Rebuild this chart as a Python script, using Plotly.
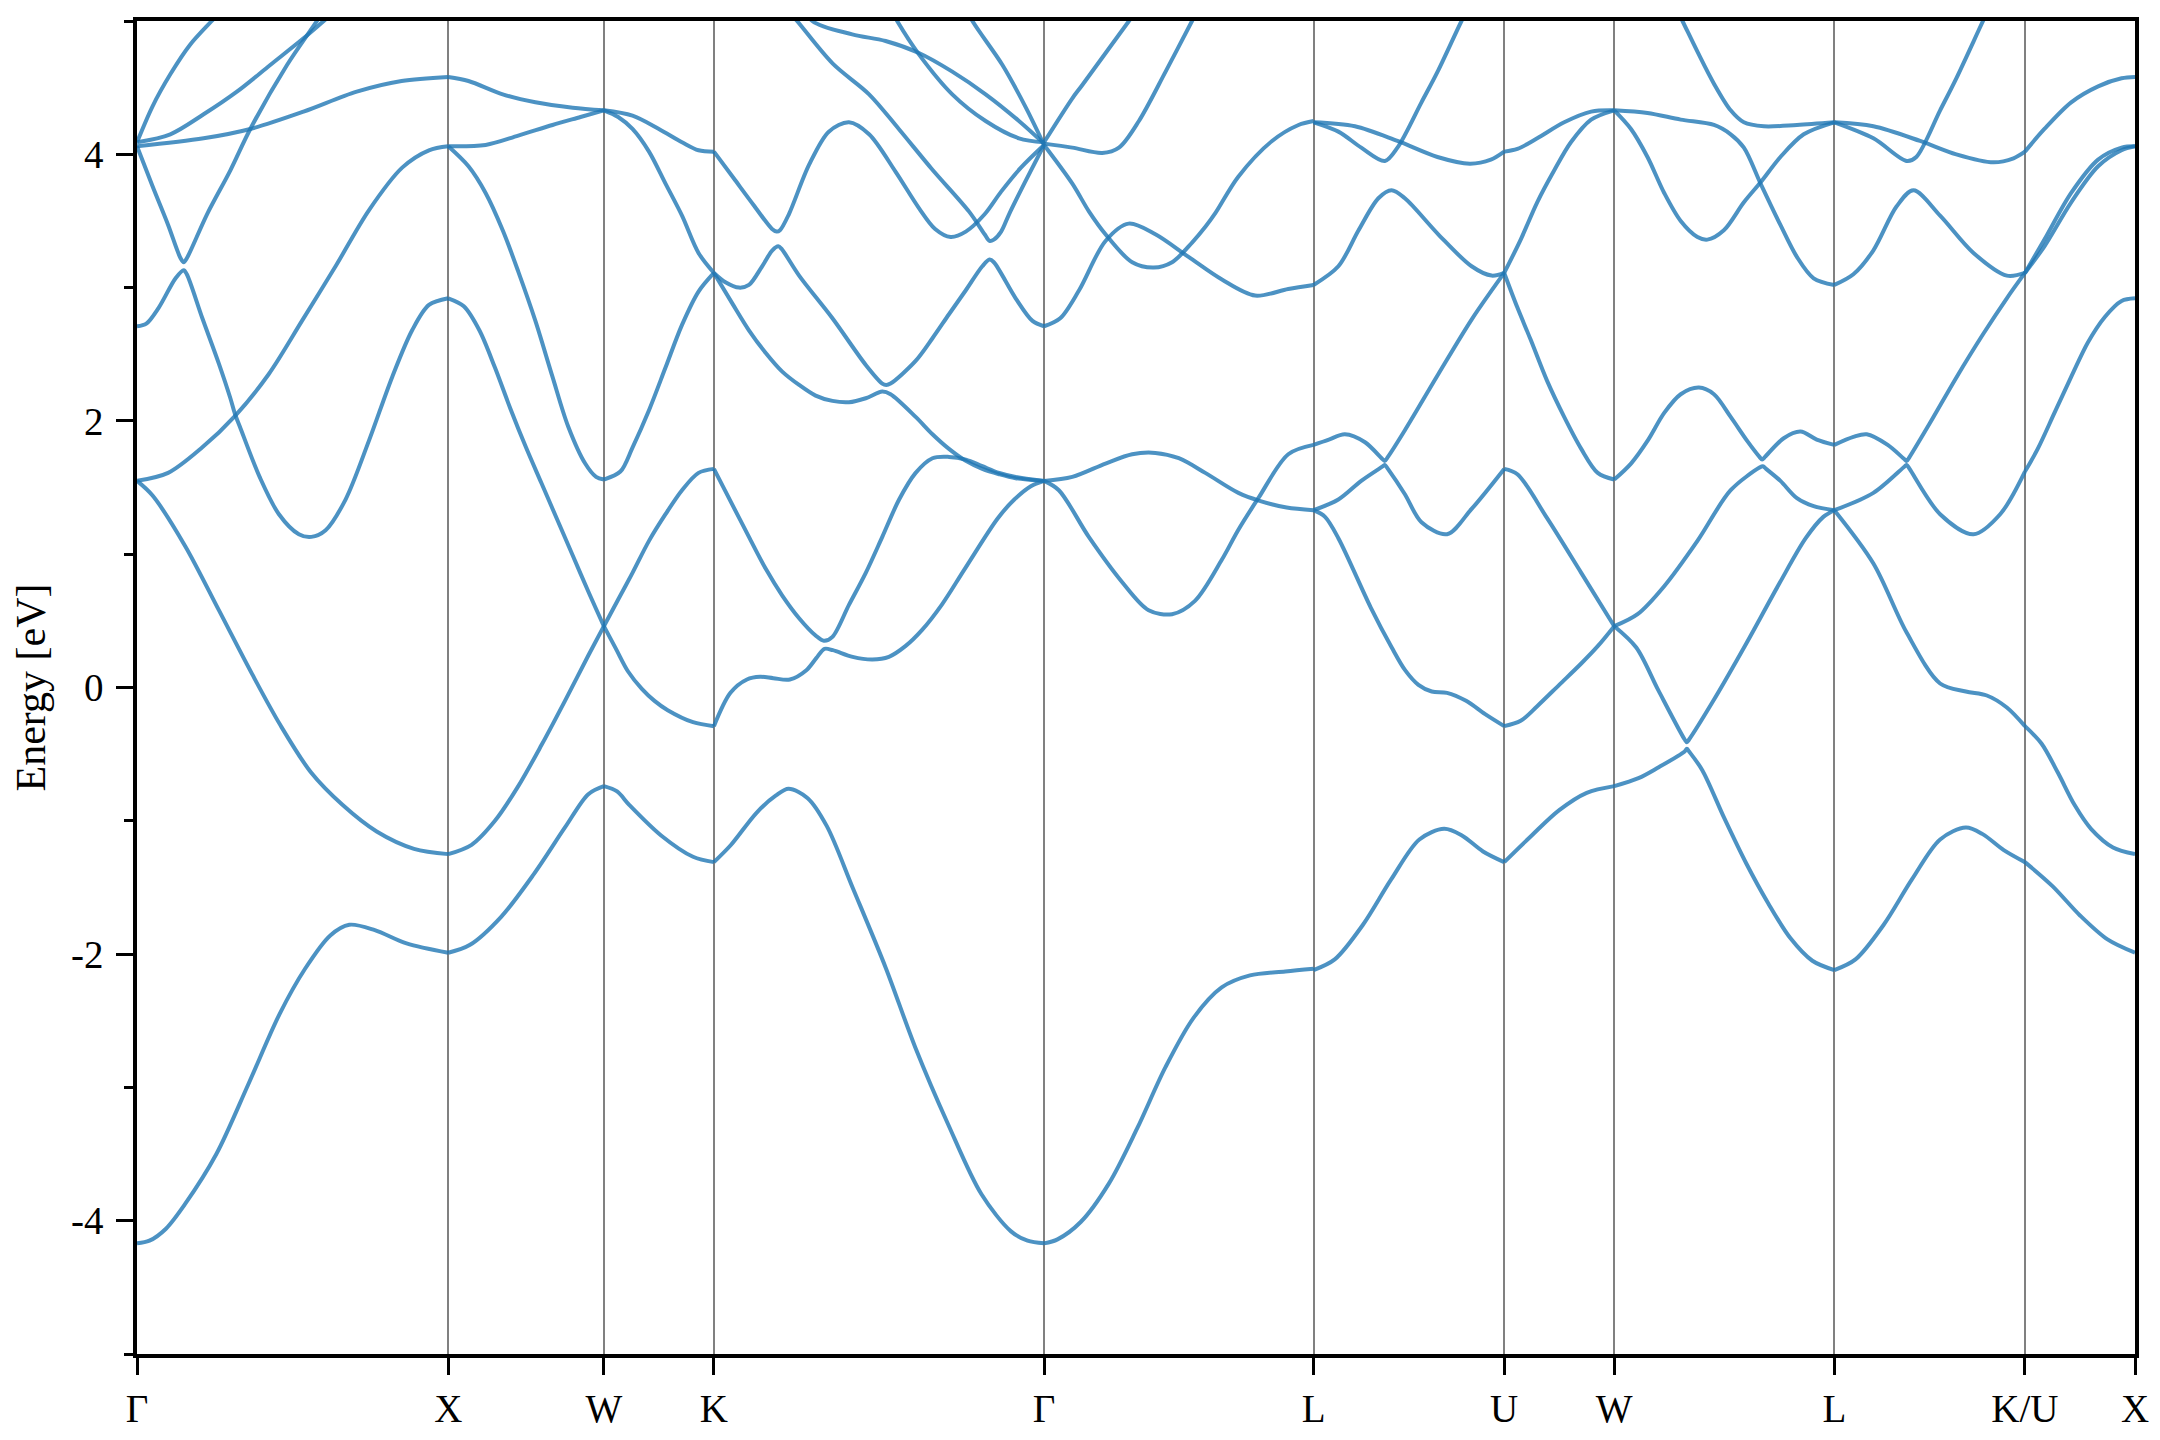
import plotly.graph_objects as go

# High-symmetry points: path positions (reciprocal-space distance, 2pi/a units) and labels
k_ticks = [0.0, 1.0, 1.5, 1.8536, 2.9142, 3.7802, 4.3926, 4.7462, 5.4533, 6.0657, 6.4193]
k_labels = ["Γ", "X", "W", "K", "Γ", "L", "U", "W", "L", "K/U", "X"]

# Bands read along each path segment: (fraction along segment, energy in eV)
G_X = [
    [(0, 4.09), (0.05, 4.36), (0.107, 4.60), (0.17, 4.82), (0.24, 5.0), (0.3, 5.15)],
    [(0, 4.09), (0.107, 4.15), (0.214, 4.30), (0.321, 4.47), (0.428, 4.67), (0.535, 4.87), (0.6, 5.0), (0.65, 5.1)],
    [(0, 4.06), (0.214, 4.12), (0.364, 4.19), (0.535, 4.32), (0.706, 4.47), (0.85, 4.55), (1, 4.58)],
    [(0, 4.06), (0.05, 3.76), (0.1, 3.47), (0.14, 3.22), (0.15, 3.19), (0.16, 3.22), (0.225, 3.55), (0.3, 3.88),
     (0.364, 4.19), (0.482, 4.67), (0.578, 5.0), (0.62, 5.15)],
    [(0, 2.71), (0.03, 2.73), (0.07, 2.85), (0.124, 3.07), (0.15, 3.13), (0.16, 3.10), (0.21, 2.77), (0.263, 2.43),
     (0.3, 2.17), (0.315, 2.05), (0.33, 1.96), (0.394, 1.58), (0.456, 1.30), (0.52, 1.15), (0.56, 1.13),
     (0.606, 1.18), (0.67, 1.41), (0.745, 1.85), (0.82, 2.33), (0.884, 2.68), (0.938, 2.87), (1, 2.92)],
    [(0, 1.55), (0.1, 1.61), (0.209, 1.80), (0.316, 2.04), (0.423, 2.35), (0.53, 2.75), (0.638, 3.16),
     (0.745, 3.58), (0.852, 3.90), (0.938, 4.03), (1, 4.06)],
    [(0, 1.55), (0.05, 1.44), (0.155, 1.06), (0.263, 0.58), (0.37, 0.10), (0.46, -0.28), (0.56, -0.64),
     (0.66, -0.88), (0.77, -1.08), (0.89, -1.21), (1, -1.25)],
    [(0, -4.17), (0.04, -4.15), (0.093, -4.06), (0.153, -3.88), (0.255, -3.50), (0.357, -2.98), (0.458, -2.45),
     (0.54, -2.11), (0.621, -1.86), (0.682, -1.78), (0.764, -1.82), (0.866, -1.92), (1, -1.99)],
]

X_W = [
    [(0, 4.58), (0.13, 4.55), (0.35, 4.45), (0.56, 4.39), (0.8, 4.35), (1, 4.33)],
    [(0, 4.06), (0.24, 4.07), (0.45, 4.14), (0.67, 4.22), (0.85, 4.28), (1, 4.33)],
    [(0, 4.06), (0.13, 3.91), (0.24, 3.71), (0.35, 3.43), (0.45, 3.12), (0.56, 2.75), (0.67, 2.33), (0.77, 1.96),
     (0.88, 1.68), (0.95, 1.58), (1, 1.56)],
    [(0, 2.92), (0.1, 2.86), (0.2, 2.68), (0.3, 2.40), (0.4, 2.09), (0.5, 1.80), (0.6, 1.53), (0.7, 1.26),
     (0.8, 0.99), (0.9, 0.72), (1, 0.46)],
    [(0, -1.25), (0.15, -1.18), (0.3, -1.0), (0.45, -0.74), (0.6, -0.43), (0.75, -0.1), (0.9, 0.24), (1, 0.46)],
    [(0, -1.99), (0.14, -1.93), (0.34, -1.72), (0.55, -1.40), (0.75, -1.05), (0.9, -0.80), (1, -0.74)],
]

W_K = [
    [(0, 4.33), (0.26, 4.29), (0.5, 4.19), (0.71, 4.09), (0.86, 4.03), (1, 4.02)],
    [(0, 4.33), (0.13, 4.28), (0.26, 4.19), (0.41, 4.02), (0.56, 3.78), (0.71, 3.54), (0.86, 3.26), (1, 3.11)],
    [(0, 1.56), (0.15, 1.62), (0.26, 1.80), (0.41, 2.08), (0.56, 2.40), (0.71, 2.72), (0.86, 2.97), (1, 3.11)],
    [(0, 0.46), (0.13, 0.66), (0.26, 0.86), (0.41, 1.10), (0.56, 1.30), (0.71, 1.48), (0.86, 1.61), (1, 1.64)],
    [(0, 0.46), (0.11, 0.29), (0.22, 0.12), (0.345, -0.01), (0.46, -0.1), (0.58, -0.17), (0.81, -0.26), (1, -0.29)],
    [(0, -0.74), (0.12, -0.78), (0.23, -0.88), (0.52, -1.11), (0.81, -1.27), (1, -1.31)],
]

K_G = [
    [(0, 4.02), (0.06, 3.82), (0.12, 3.62), (0.176, 3.44), (0.19, 3.42), (0.2, 3.43), (0.227, 3.55), (0.288, 3.92),
     (0.348, 4.17), (0.409, 4.24), (0.47, 4.15), (0.55, 3.87), (0.62, 3.60), (0.67, 3.44), (0.717, 3.38),
     (0.763, 3.42), (0.82, 3.55), (0.87, 3.72), (0.93, 3.90), (1, 4.07)],
    [(0, 3.11), (0.035, 3.04), (0.076, 3.00), (0.106, 3.02), (0.146, 3.16), (0.177, 3.28), (0.195, 3.31),
     (0.205, 3.29), (0.258, 3.09), (0.359, 2.77), (0.46, 2.42), (0.51, 2.28), (0.522, 2.27), (0.535, 2.28),
     (0.611, 2.45), (0.662, 2.62), (0.712, 2.80), (0.763, 2.98), (0.813, 3.16), (0.835, 3.21), (0.848, 3.19),
     (0.914, 2.92), (0.965, 2.75), (1, 2.71)],
    [(0, 3.11), (0.056, 2.88), (0.106, 2.68), (0.157, 2.51), (0.207, 2.37), (0.258, 2.27), (0.308, 2.19),
     (0.359, 2.15), (0.409, 2.14), (0.46, 2.17), (0.51, 2.22), (0.535, 2.20), (0.611, 2.03), (0.662, 1.90),
     (0.712, 1.79), (0.763, 1.70), (0.813, 1.64), (0.864, 1.60), (0.914, 1.57), (1, 1.55)],
    [(0, 1.64), (0.056, 1.37), (0.106, 1.13), (0.157, 0.89), (0.207, 0.69), (0.258, 0.52), (0.308, 0.39),
     (0.333, 0.35), (0.359, 0.38), (0.409, 0.62), (0.46, 0.86), (0.51, 1.13), (0.561, 1.41), (0.611, 1.61),
     (0.662, 1.72), (0.712, 1.73), (0.763, 1.71), (0.813, 1.66), (0.864, 1.61), (0.914, 1.58), (1, 1.55)],
    [(0, -0.29), (0.05, -0.04), (0.1, 0.06), (0.14, 0.08), (0.18, 0.07), (0.23, 0.06), (0.28, 0.13), (0.31, 0.22),
     (0.335, 0.29), (0.36, 0.28), (0.42, 0.23), (0.48, 0.21), (0.53, 0.23), (0.58, 0.31), (0.63, 0.43),
     (0.69, 0.62), (0.76, 0.89), (0.86, 1.27), (0.91, 1.41), (0.96, 1.51), (1, 1.55)],
    [(0, -1.31), (0.052, -1.18), (0.129, -0.94), (0.188, -0.81), (0.226, -0.76), (0.284, -0.83), (0.342, -1.04),
     (0.42, -1.50), (0.52, -2.10), (0.61, -2.70), (0.71, -3.28), (0.81, -3.80), (0.9, -4.08), (0.95, -4.15),
     (1, -4.17)],
    [(0.2, 5.15), (0.252, 5.0), (0.36, 4.68), (0.47, 4.45), (0.56, 4.19), (0.66, 3.89), (0.773, 3.57),
     (0.82, 3.40), (0.835, 3.35), (0.848, 3.36), (0.87, 3.42), (0.894, 3.55), (0.94, 3.78), (1, 4.07)],
    [(0.25, 5.2), (0.298, 5.0), (0.419, 4.90), (0.52, 4.85), (0.621, 4.76), (0.722, 4.62), (0.823, 4.45),
     (0.924, 4.25), (1, 4.08)],
    [(0.5, 5.25), (0.555, 5.0), (0.621, 4.75), (0.722, 4.45), (0.823, 4.25), (0.924, 4.12), (1, 4.09)],
    [(0.74, 5.2), (0.783, 5.0), (0.874, 4.67), (0.945, 4.35), (1, 4.07)],
]

G_L = [
    [(0, 4.09), (0.105, 4.42), (0.142, 4.52), (0.315, 5.0), (0.36, 5.12)],
    [(0, 4.08), (0.105, 4.05), (0.216, 4.01), (0.278, 4.05), (0.352, 4.25), (0.451, 4.62), (0.549, 5.0), (0.6, 5.2)],
    [(0, 4.07), (0.105, 3.78), (0.167, 3.57), (0.228, 3.40), (0.327, 3.19), (0.407, 3.15), (0.475, 3.19),
     (0.55, 3.34), (0.6, 3.46), (0.636, 3.56), (0.72, 3.83), (0.846, 4.10), (0.944, 4.22), (1, 4.25)],
    [(0, 2.71), (0.06, 2.77), (0.13, 2.98), (0.228, 3.35), (0.314, 3.48), (0.413, 3.40), (0.536, 3.23),
     (0.66, 3.06), (0.783, 2.94), (0.906, 2.99), (1, 3.02)],
    [(0, 1.55), (0.105, 1.58), (0.228, 1.68), (0.327, 1.75), (0.413, 1.76), (0.5, 1.72), (0.598, 1.61),
     (0.721, 1.46), (0.8, 1.40), (0.9, 1.35), (1, 1.33)],
    [(0, 1.55), (0.055, 1.48), (0.166, 1.13), (0.29, 0.79), (0.388, 0.58), (0.475, 0.55), (0.56, 0.65),
     (0.66, 0.96), (0.72, 1.18), (0.795, 1.42), (0.906, 1.75), (1, 1.82)],
    [(0, -4.17), (0.05, -4.14), (0.136, -4.01), (0.241, -3.72), (0.345, -3.31), (0.45, -2.85), (0.554, -2.48),
     (0.659, -2.25), (0.764, -2.16), (0.895, -2.13), (1, -2.11)],
]

L_U = [
    [(0, 4.24), (0.217, 4.21), (0.44, 4.10), (0.65, 3.98), (0.82, 3.93), (0.93, 3.96), (1, 4.02)],
    [(0, 4.24), (0.13, 4.17), (0.25, 4.05), (0.374, 3.95), (0.44, 4.05), (0.566, 4.39), (0.654, 4.63),
     (0.776, 5.0), (0.83, 5.15)],
    [(0, 3.02), (0.13, 3.16), (0.236, 3.43), (0.34, 3.67), (0.409, 3.73), (0.479, 3.67), (0.654, 3.40),
     (0.829, 3.16), (0.934, 3.09), (1, 3.11)],
    [(0, 1.82), (0.08, 1.86), (0.164, 1.90), (0.27, 1.84), (0.364, 1.71), (0.374, 1.70), (0.39, 1.73),
     (0.479, 1.93), (0.654, 2.35), (0.829, 2.76), (1, 3.11)],
    [(0, 1.33), (0.13, 1.41), (0.25, 1.55), (0.364, 1.66), (0.374, 1.67), (0.39, 1.64), (0.479, 1.45),
     (0.566, 1.24), (0.7, 1.15), (0.829, 1.34), (1, 1.64)],
    [(0, 1.33), (0.06, 1.28), (0.13, 1.12), (0.3, 0.6), (0.41, 0.3), (0.48, 0.13), (0.55, 0.02), (0.62, -0.03),
     (0.7, -0.04), (0.8, -0.1), (0.9, -0.2), (1, -0.29)],
    [(0, -2.12), (0.111, -2.04), (0.259, -1.78), (0.407, -1.44), (0.555, -1.14), (0.685, -1.06), (0.778, -1.11),
     (0.889, -1.23), (1, -1.31)],
]

U_W = [
    [(0, 4.02), (0.12, 4.04), (0.3, 4.12), (0.545, 4.24), (0.79, 4.32), (1, 4.33)],
    [(0, 3.11), (0.15, 3.36), (0.3, 3.64), (0.455, 3.88), (0.606, 4.09), (0.79, 4.26), (1, 4.33)],
    [(0, 3.11), (0.12, 2.85), (0.24, 2.61), (0.39, 2.30), (0.545, 2.03), (0.7, 1.79), (0.85, 1.61), (1, 1.56)],
    [(0, 1.64), (0.12, 1.60), (0.39, 1.27), (0.7, 0.86), (1, 0.46)],
    [(0, -0.29), (0.15, -0.25), (0.3, -0.14), (0.5, 0.02), (0.7, 0.18), (0.85, 0.31), (1, 0.46)],
    [(0, -1.31), (0.25, -1.11), (0.5, -0.92), (0.75, -0.79), (1, -0.74)],
]

W_L = [
    [(0.25, 5.2), (0.31, 5.0), (0.378, 4.77), (0.453, 4.53), (0.529, 4.33), (0.589, 4.24), (0.68, 4.21),
     (0.83, 4.22), (1, 4.24)],
    [(0, 4.33), (0.151, 4.31), (0.302, 4.26), (0.453, 4.22), (0.529, 4.15), (0.589, 4.05), (0.665, 3.78),
     (0.755, 3.47), (0.83, 3.23), (0.906, 3.07), (1, 3.02)],
    [(0, 4.33), (0.076, 4.19), (0.151, 3.98), (0.227, 3.71), (0.302, 3.50), (0.378, 3.38), (0.423, 3.36),
     (0.498, 3.43), (0.589, 3.64), (0.665, 3.79), (0.755, 3.98), (0.861, 4.15), (1, 4.24)],
    [(0, 1.56), (0.076, 1.68), (0.151, 1.85), (0.227, 2.06), (0.302, 2.20), (0.385, 2.25), (0.453, 2.20),
     (0.529, 2.03), (0.604, 1.85), (0.66, 1.73), (0.672, 1.71), (0.685, 1.73), (0.77, 1.87), (0.846, 1.92),
     (0.92, 1.86), (1, 1.82)],
    [(0, 0.46), (0.106, 0.55), (0.227, 0.76), (0.378, 1.10), (0.529, 1.48), (0.66, 1.65), (0.675, 1.66),
     (0.69, 1.64), (0.755, 1.55), (0.83, 1.42), (0.906, 1.36), (1, 1.33)],
    [(0, 0.46), (0.1, 0.3), (0.2, -0.02), (0.32, -0.39), (0.33, -0.41), (0.34, -0.39), (0.45, -0.1), (0.6, 0.33),
     (0.75, 0.78), (0.87, 1.12), (0.95, 1.28), (1, 1.33)],
    [(0, -0.74), (0.11, -0.68), (0.2, -0.60), (0.32, -0.48), (0.33, -0.46), (0.34, -0.48), (0.4, -0.62),
     (0.5, -0.98), (0.6, -1.32), (0.7, -1.62), (0.8, -1.88), (0.9, -2.05), (1, -2.12)],
]

L_K = [
    [(0, 4.24), (0.205, 4.21), (0.45, 4.10), (0.64, 4.0), (0.835, 3.94), (0.94, 3.97), (1, 4.02)],
    [(0, 4.24), (0.205, 4.12), (0.38, 3.95), (0.43, 3.98), (0.555, 4.33), (0.64, 4.57), (0.78, 5.0), (0.83, 5.15)],
    [(0, 3.02), (0.1, 3.1), (0.205, 3.28), (0.327, 3.61), (0.415, 3.73), (0.555, 3.54), (0.73, 3.26),
     (0.905, 3.09), (1, 3.11)],
    [(0, 1.82), (0.1, 1.88), (0.17, 1.90), (0.28, 1.82), (0.37, 1.71), (0.38, 1.70), (0.395, 1.73), (0.5, 1.98),
     (0.642, 2.33), (0.78, 2.65), (0.905, 2.92), (1, 3.11)],
    [(0, 1.33), (0.205, 1.46), (0.37, 1.66), (0.38, 1.67), (0.395, 1.64), (0.555, 1.30), (0.73, 1.15),
     (0.87, 1.30), (1, 1.62)],
    [(0, 1.33), (0.205, 0.93), (0.38, 0.41), (0.555, 0.03), (0.69, -0.03), (0.8, -0.06), (0.905, -0.15),
     (1, -0.29)],
    [(0, -2.12), (0.111, -2.04), (0.259, -1.78), (0.407, -1.44), (0.555, -1.14), (0.69, -1.05), (0.778, -1.10),
     (0.889, -1.22), (1, -1.31)],
]

U_X = [
    [(0, 4.02), (0.177, 4.19), (0.42, 4.39), (0.665, 4.51), (0.878, 4.57), (1, 4.58)],
    [(0, 3.11), (0.177, 3.36), (0.42, 3.71), (0.665, 3.96), (0.878, 4.05), (1, 4.06)],
    [(0, 3.11), (0.177, 3.31), (0.42, 3.64), (0.665, 3.91), (0.878, 4.03), (1, 4.06)],
    [(0, 1.62), (0.116, 1.79), (0.268, 2.06), (0.42, 2.33), (0.573, 2.59), (0.726, 2.78), (0.878, 2.90), (1, 2.92)],
    [(0, -0.29), (0.15, -0.42), (0.3, -0.64), (0.45, -0.88), (0.6, -1.06), (0.8, -1.20), (1, -1.25)],
    [(0, -1.31), (0.25, -1.49), (0.5, -1.71), (0.75, -1.89), (1, -1.99)],
]

segments = [G_X, X_W, W_K, K_G, G_L, L_U, U_W, W_L, L_K, U_X]

BAND_COLOR = "rgba(31,119,180,0.8)"
FONT = "Liberation Serif, Times New Roman, serif"

fig = go.Figure()
for i, seg in enumerate(segments):
    k0, k1 = k_ticks[i], k_ticks[i + 1]
    for band in seg:
        xs = [k0 + t * (k1 - k0) for t, _ in band]
        ys = [e for _, e in band]
        fig.add_trace(go.Scatter(
            x=xs, y=ys, mode="lines",
            line=dict(color=BAND_COLOR, width=4, shape="spline", smoothing=0.9),
            hoverinfo="skip", showlegend=False,
        ))

# the page body has an 8px default margin, margins below compensate for it
fig.update_layout(
    width=2160, height=1440,
    margin=dict(l=129, r=33, t=13, b=94, autoexpand=False),
    paper_bgcolor="white", plot_bgcolor="white",
    font=dict(family=FONT, size=40, color="black"),
    showlegend=False,
)
fig.update_xaxes(
    range=[k_ticks[0], k_ticks[-1]],
    tickmode="array", tickvals=k_ticks, ticktext=k_labels,
    ticks="outside", ticklen=17, tickwidth=2.5, tickcolor="black",
    showgrid=True, gridcolor="rgb(128,128,128)", gridwidth=1.8,
    showline=True, linecolor="black", linewidth=3.5, mirror=True,
    zeroline=False, automargin=False,
    tickfont=dict(family=FONT, size=39),
)
fig.update_yaxes(
    range=[-5, 5],
    tickmode="array", tickvals=[-4, -2, 0, 2, 4], ticktext=["-4", "-2", "0", "2", "4"],
    ticks="outside", ticklen=17, tickwidth=2.5, tickcolor="black",
    minor=dict(tickmode="array", tickvals=[-5, -3, -1, 1, 3, 5], ticks="outside",
               ticklen=9, tickwidth=2.5, tickcolor="black", showgrid=False),
    showgrid=False, showline=True, linecolor="black", linewidth=3.5, mirror=True,
    zeroline=False, automargin=False, ticklabelstandoff=5,
    tickfont=dict(family=FONT, size=39),
    title=dict(text="Energy [eV]", font=dict(family=FONT, size=42), standoff=24),
)

fig.write_html("out.html")
